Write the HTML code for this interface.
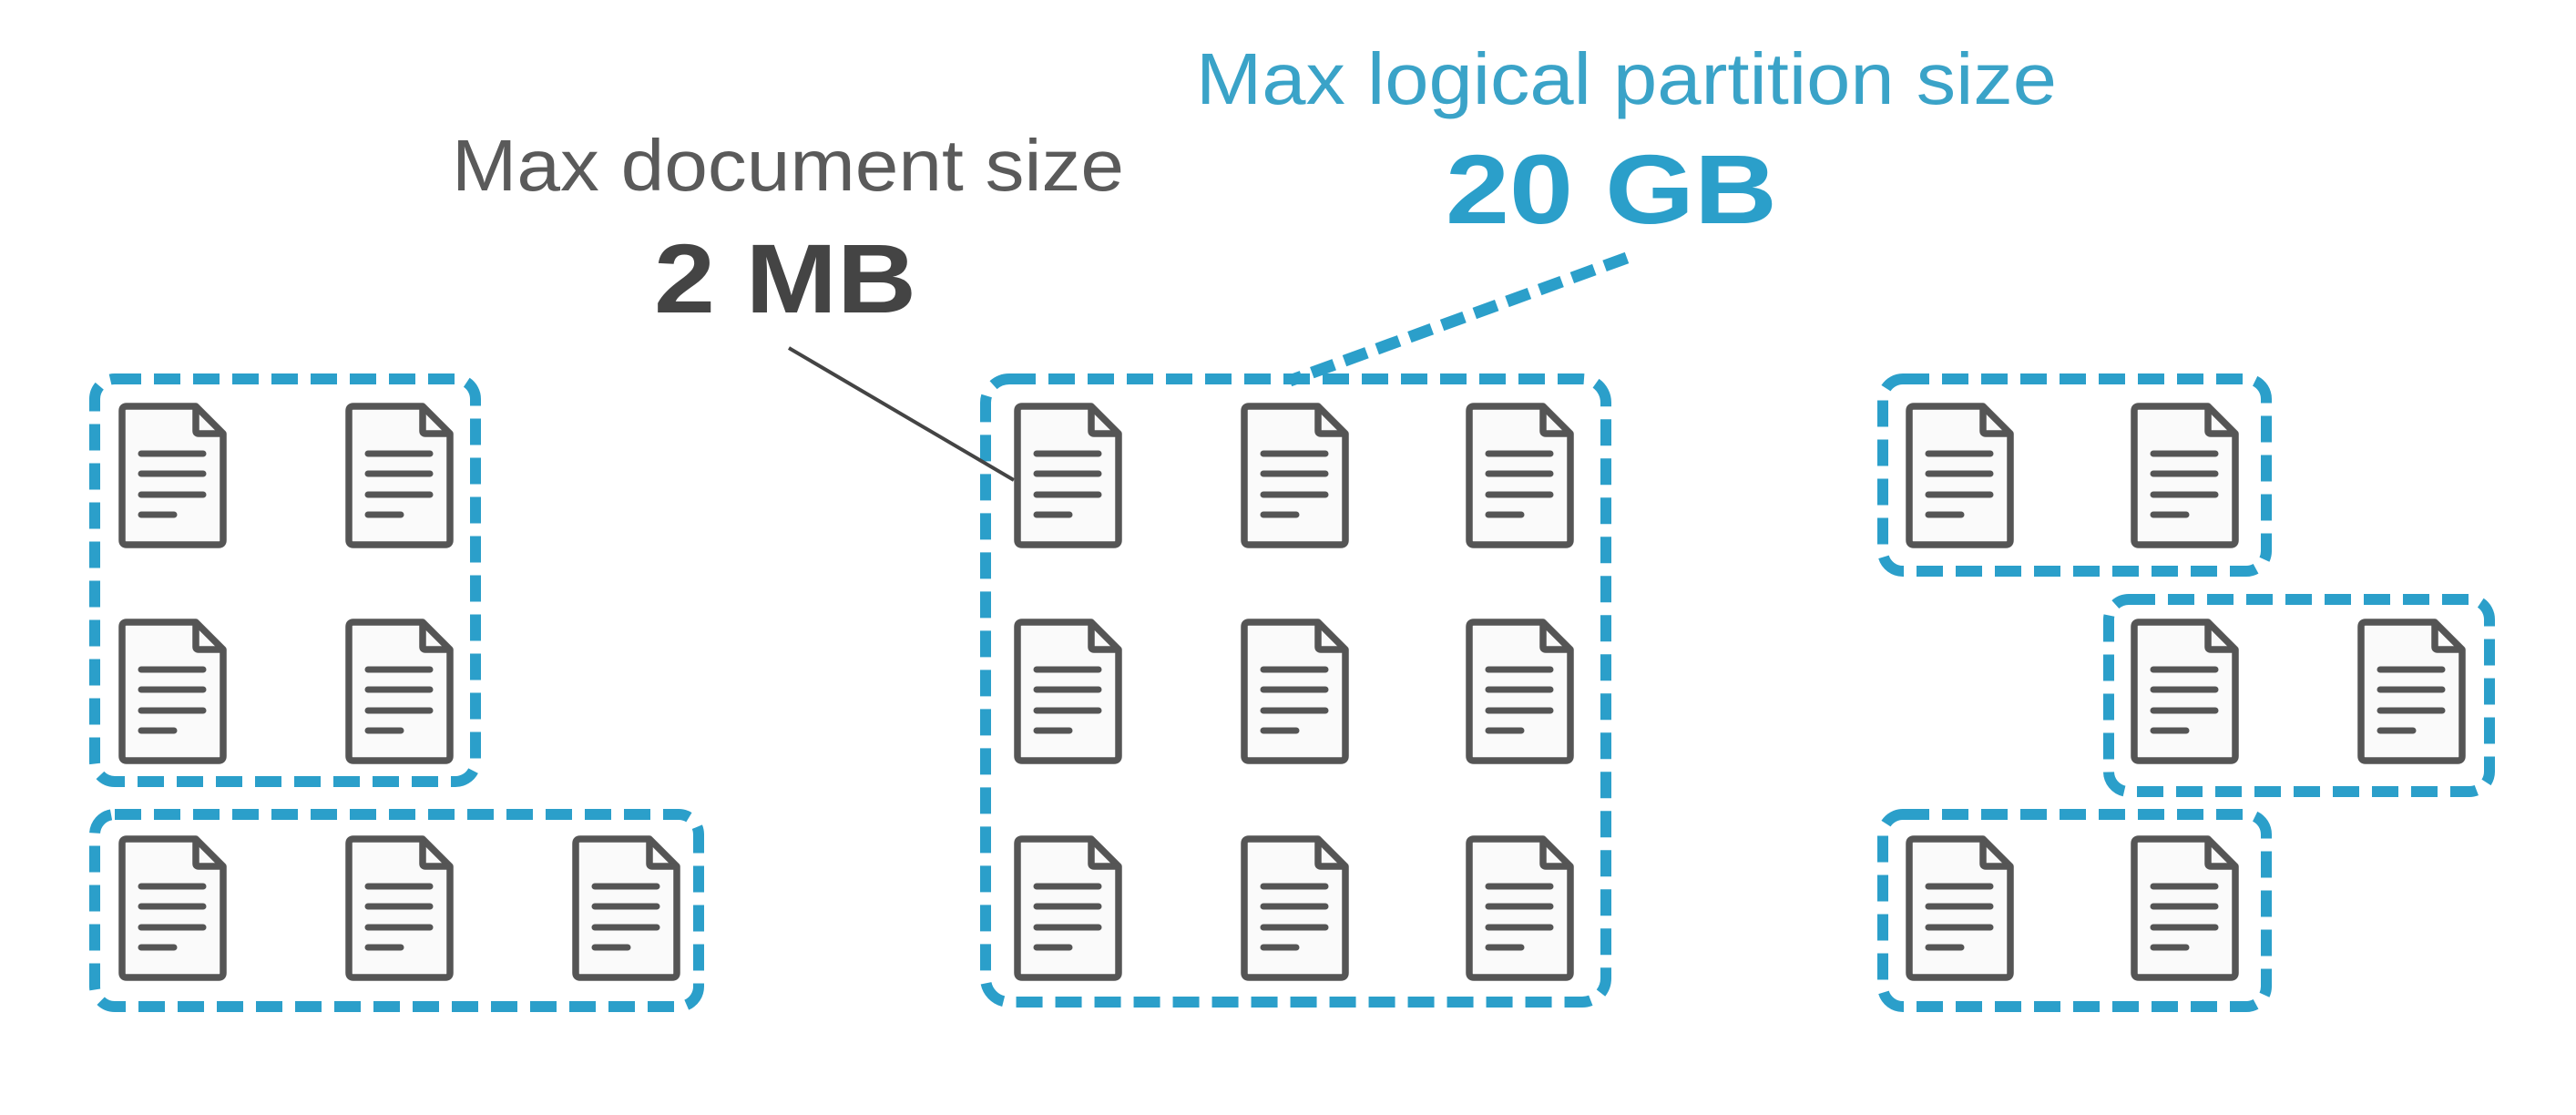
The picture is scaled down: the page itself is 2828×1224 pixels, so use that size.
<!DOCTYPE html>
<html><head><meta charset="utf-8"><style>html,body{margin:0;padding:0;background:#fff}svg{display:block}</style></head>
<body>
<svg width="2828" height="1224" viewBox="0 0 2828 1224" xmlns="http://www.w3.org/2000/svg">
<defs>
<g id="doc">
<path d="M4 8 Q4 3 9 3 L85 3 L115 33 L115 150 Q115 155 110 155 L9 155 Q4 155 4 150 Z" fill="#fafafa" stroke="#555" stroke-width="7.5" stroke-linejoin="round"/>
<path d="M85 3 L85 30 Q85 33 88 33 L115 33" fill="none" stroke="#555" stroke-width="7.5" stroke-linejoin="round"/>
<g stroke="#555" stroke-width="7" stroke-linecap="round">
<line x1="25" y1="55" x2="93" y2="55"/>
<line x1="25" y1="77" x2="93" y2="77"/>
<line x1="25" y1="100" x2="93" y2="100"/>
<line x1="25" y1="122" x2="61" y2="122"/>
</g>
</g>
</defs>
<g fill="none" stroke="#2b9fca" stroke-width="12" stroke-dasharray="29 14">
<rect x="104" y="416" width="418" height="442" rx="22"/>
<rect x="104" y="894" width="663" height="211" rx="22"/>
<rect x="1082" y="416" width="681" height="684" rx="26"/>
<rect x="2067" y="416" width="421" height="211" rx="22"/>
<rect x="2315" y="658" width="418" height="211" rx="22"/>
<rect x="2067" y="894" width="421" height="211" rx="22"/>
</g>
<line x1="866" y1="382" x2="1113" y2="527" stroke="#444" stroke-width="4"/>
<line x1="1786" y1="283" x2="1416" y2="418" stroke="#2b9fca" stroke-width="13" stroke-dasharray="26 12"/>
<use href="#doc" x="130" y="443"/><use href="#doc" x="379" y="443"/>
<use href="#doc" x="130" y="680"/><use href="#doc" x="379" y="680"/>
<use href="#doc" x="130" y="918"/><use href="#doc" x="379" y="918"/><use href="#doc" x="628" y="918"/>
<use href="#doc" x="1113" y="443"/><use href="#doc" x="1362" y="443"/><use href="#doc" x="1609" y="443"/>
<use href="#doc" x="1113" y="680"/><use href="#doc" x="1362" y="680"/><use href="#doc" x="1609" y="680"/>
<use href="#doc" x="1113" y="918"/><use href="#doc" x="1362" y="918"/><use href="#doc" x="1609" y="918"/>
<use href="#doc" x="2092" y="443"/><use href="#doc" x="2339" y="443"/>
<use href="#doc" x="2339" y="680"/><use href="#doc" x="2588" y="680"/>
<use href="#doc" x="2092" y="918"/><use href="#doc" x="2339" y="918"/>
<g font-family="Liberation Sans, sans-serif">
<text x="496" y="209" font-size="80" fill="#5a5a5a" textLength="738" lengthAdjust="spacingAndGlyphs">Max document size</text>
<text x="718" y="343" font-size="108" font-weight="bold" fill="#444" textLength="288" lengthAdjust="spacingAndGlyphs">2 MB</text>
<text x="1313" y="114" font-size="80" fill="#3aa3c8" textLength="945" lengthAdjust="spacingAndGlyphs">Max logical partition size</text>
<text x="1587" y="245" font-size="108" font-weight="bold" fill="#2b9fca" textLength="364" lengthAdjust="spacingAndGlyphs">20 GB</text>
</g>
</svg>
</body></html>
